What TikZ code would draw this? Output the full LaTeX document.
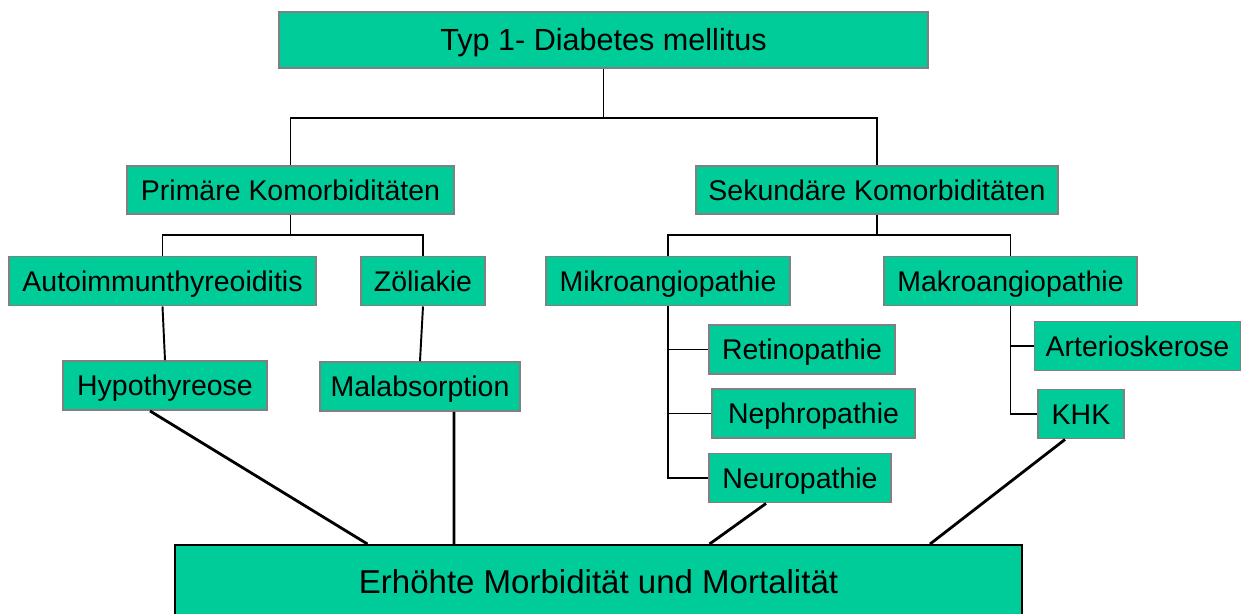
\documentclass[tikz,border=0pt]{standalone}
\usepackage{fontspec}
\setmainfont{Liberation Sans}
\usepackage{xcolor}
\definecolor{boxgreen}{RGB}{0,204,153}
\definecolor{boxframe}{RGB}{128,128,128}

\begin{document}
\begin{tikzpicture}[box/.style={draw=boxframe,line width=1.1pt,fill=boxgreen,inner sep=0pt,minimum height=0.98cm,text height=11.6pt,text depth=0pt,font=\fontsize{16.2}{19}\selectfont},
  tree/.style={line width=1.1pt},link/.style={line width=1.6pt}]
\useasboundingbox (0,0) rectangle (24.84,-12.26);
\node[box,minimum width=12.98cm,minimum height=1.12cm,text height=12.5pt,font=\fontsize{17.4}{20}\selectfont] (title) at (12.07,-0.80) {Typ 1- Diabetes mellitus};
\node[box,minimum width=6.54cm,minimum height=0.96cm] (prim) at (5.81,-3.80) {Primäre Komorbiditäten};
\node[box,minimum width=7.24cm,minimum height=0.96cm] (sek) at (17.54,-3.80) {Sekundäre Komorbiditäten};
\node[box,minimum width=6.14cm] (auto) at (3.25,-5.62) {Autoimmunthyreoiditis};
\node[box,minimum width=2.48cm] (zoel) at (8.46,-5.62) {Zöliakie};
\node[box,minimum width=4.08cm] (hypo) at (3.30,-7.71) {Hypothyreose};
\node[box,minimum width=4.00cm] (malab) at (8.40,-7.73) {Malabsorption};
\node[box,minimum width=4.88cm] (mikro) at (13.36,-5.62) {Mikroangiopathie};
\node[box,minimum width=5.06cm] (makro) at (20.21,-5.62) {Makroangiopathie};
\node[box,minimum width=3.72cm] (retino) at (16.04,-6.99) {Retinopathie};
\node[box,minimum width=4.06cm] (nephro) at (16.27,-8.27) {Nephropathie};
\node[box,minimum width=3.63cm] (neuro) at (16.00,-9.56) {Neuropathie};
\node[box,minimum width=4.12cm] (arterio) at (22.75,-6.92) {Arterioskerose};
\node[box,minimum width=1.72cm] (khk) at (21.62,-8.28) {KHK};
\node[box,draw=black,minimum width=16.94cm,minimum height=1.48cm,text height=13.5pt,font=\fontsize{18.8}{22}\selectfont] (morb) at (11.97,-11.64) {Erhöhte Morbidität und Mortalität};

\coordinate (j0) at (12.07,-2.36);
\coordinate (j1) at (5.81,-4.70);
\coordinate (j2) at (17.54,-4.70);
\draw[tree] (title.south) -- (j0);
\draw[tree] (prim.north) |- (j0) -| (sek.north);
\draw[tree] (prim.south) -- (j1);
\draw[tree] (auto.north) |- (j1) -| (zoel.north);
\draw[tree] (sek.south) -- (j2);
\draw[tree] (mikro.north) |- (j2) -| (makro.north);
\draw[tree] (auto.south) -- (hypo.north);
\draw[tree] (zoel.south) -- (malab.north);
\foreach \n in {retino,nephro,neuro}
  \draw[tree] (mikro.south) |- (\n.west);
\foreach \n in {arterio,khk}
  \draw[tree] (makro.south) |- (\n.west);

\draw[link] ([xshift=-0.30cm]hypo.south) -- ([xshift=-4.62cm]morb.north);
\draw[link] ([xshift=0.68cm]malab.south) -- ([xshift=-2.89cm]morb.north);
\draw[link] ([xshift=-0.68cm]neuro.south) -- ([xshift=2.22cm]morb.north);
\draw[link] ([xshift=-0.32cm]khk.south) -- ([xshift=6.63cm]morb.north);
\end{tikzpicture}
\end{document}
